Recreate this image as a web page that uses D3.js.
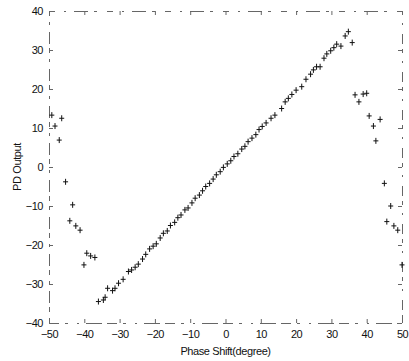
<!DOCTYPE html>
<html><head><meta charset="utf-8">
<script src="https://cdn.jsdelivr.net/npm/d3@7/dist/d3.min.js"></script>
<style>body{margin:0;background:#fff}svg{display:block}text{font-family:"Liberation Sans",Arial,sans-serif}</style>
</head><body><svg id="c" width="409" height="361"></svg>
<script>
const xTicks = [-50,-40,-30,-20,-10,0,10,20,30,40,50];
const yTicks = [-40,-30,-20,-10,0,10,20,30,40];
const xLabel = "Phase Shift(degree)";
const yLabel = "PD Output";
const phase = [-49.2,-48.3,-47.1,-46.4,-45.3,-44.1,-43.3,-42.4,-41.2,-40.1,-39.3,-38.2,-37.0,-36.0,
 -34.6,-34.1,-33.4,-32.0,-31.3,-30.3,-29.0,-27.5,-26.6,-25.6,-24.7,-23.5,-22.6,-21.5,-20.5,-19.6,
 -18.5,-17.6,-16.5,-15.6,-14.4,-13.5,-12.6,-11.5,-10.6,-9.5,-8.6,-7.4,-6.5,-5.6,-4.5,-3.5,-2.6,-1.5,
 -0.6,0.5,1.5,2.4,3.5,4.6,5.5,6.4,7.5,8.6,9.5,10.4,11.5,12.9,14.0,15.9,16.9,17.8,18.8,20.0,21.6,
 22.8,24.1,24.9,25.8,26.8,27.9,28.7,29.8,30.7,31.5,32.7,33.9,34.8,35.9,
 36.7,37.8,39.0,40.0,40.7,41.9,42.6,43.8,45.0,45.7,46.8,47.7,48.8,50.0];
const output = [13.3,10.5,6.9,12.5,-3.8,-13.8,-9.7,-15.1,-16.2,-25.1,-22.1,-22.8,-23.2,-34.5,
 -34.1,-33.4,-31.1,-31.7,-31.1,-29.8,-28.8,-26.8,-26.4,-25.7,-24.9,-23.6,-22.4,-21.0,-20.3,-19.7,
 -18.2,-17.0,-16.4,-15.0,-14.2,-13.0,-12.3,-11.0,-10.5,-9.2,-8.0,-7.2,-6.1,-5.0,-4.2,-3.1,-2.0,-1.2,
 -0.1,0.8,1.6,2.7,3.4,4.6,5.3,6.5,7.4,8.3,9.6,10.4,11.3,12.5,13.3,15.0,16.7,17.6,18.6,19.7,20.6,
 22.5,23.8,24.9,25.7,25.7,27.9,29.0,29.8,30.6,31.5,31.0,33.6,34.7,31.9,
 18.5,16.7,18.7,18.9,13.1,10.5,6.7,12.2,-4.2,-14.0,-10.0,-15.1,-16.2,-25.1];

const svg = d3.select("#c");
const L=49,R=402,T=11,B=323;
const x = d3.scaleLinear().domain([-50,50]).range([L,R]);
const y = d3.scaleLinear().domain([-40,40]).range([B,T]);
const axisCol="#666";
const frame = svg.append("g").attr("fill","none").attr("stroke",axisCol).attr("stroke-width",1);
frame.append("line").attr("x1",L).attr("x2",R).attr("y1",T+0.5).attr("y2",T+0.5).attr("stroke-dasharray","6,9,2,8,14,6,3,10");
frame.append("line").attr("x1",L).attr("x2",R).attr("y1",B+0.5).attr("y2",B+0.5).attr("stroke-dasharray","10,6,3,9,2,7,16,5");
frame.append("line").attr("x1",L+0.5).attr("x2",L+0.5).attr("y1",T).attr("y2",B).attr("stroke-dasharray","5,6,3,7,12,4");
frame.append("line").attr("x1",R+0.5).attr("x2",R+0.5).attr("y1",T).attr("y2",B).attr("stroke-dasharray","4,8,2,9,10,5");

const fs=11;
const ax = svg.append("g").attr("transform",`translate(0,${B})`)
  .call(d3.axisBottom(x).tickValues(xTicks).tickSize(-4).tickPadding(7).tickFormat(d3.format("d")));
const ay = svg.append("g").attr("transform",`translate(${L},0)`)
  .call(d3.axisLeft(y).tickValues(yTicks).tickSize(-4).tickPadding(6).tickFormat(d3.format("d")));
const axT = svg.append("g").attr("transform",`translate(0,${T})`)
  .call(d3.axisTop(x).tickValues(xTicks).tickSize(-4).tickFormat(""));
const ayR = svg.append("g").attr("transform",`translate(${R},0)`)
  .call(d3.axisRight(y).tickValues(yTicks).tickSize(-4).tickFormat(""));
[ax,ay,axT,ayR].forEach(g=>{
  g.select(".domain").remove();
  g.selectAll(".tick line").attr("stroke",axisCol);
  g.selectAll("text").attr("font-size",fs).attr("fill","#111").attr("font-family","Liberation Sans, Arial, sans-serif").style("letter-spacing","-0.5px");
});
ay.selectAll("text").attr("dy","0.35em");

svg.append("text").attr("x",(L+R)/2).attr("y",355).attr("text-anchor","middle")
  .attr("font-size",11).attr("fill","#111").style("letter-spacing","-0.4px").text(xLabel);
svg.append("text").attr("transform",`translate(21,${(T+B)/2}) rotate(-90)`).attr("text-anchor","middle")
  .attr("font-size",11).attr("fill","#111").style("letter-spacing","-0.4px").text(yLabel);

const data = phase.map((p,i)=>({p, v: output[i]}));
const g = svg.append("g").attr("stroke","#111").attr("stroke-width",1);
data.forEach(d=>{
  const cx=x(d.p), cy=y(d.v);
  g.append("line").attr("x1",cx-2.5).attr("x2",cx+2.5).attr("y1",cy).attr("y2",cy);
  g.append("line").attr("x1",cx).attr("x2",cx).attr("y1",cy-3).attr("y2",cy+3);
});
</script></body></html>
